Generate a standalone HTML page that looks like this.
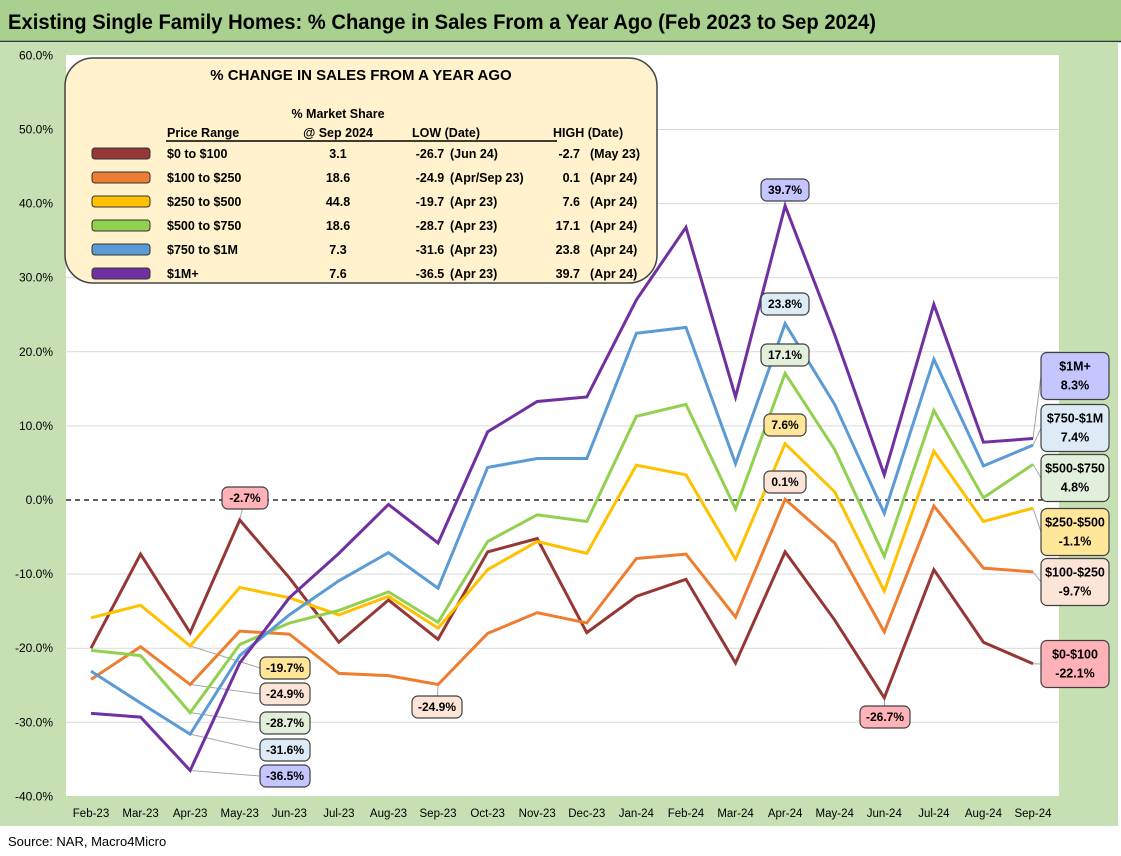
<!DOCTYPE html>
<html><head><meta charset="utf-8"><style>
html,body{margin:0;padding:0;background:#fff}
svg{display:block;font-family:"Liberation Sans",sans-serif}
</style></head><body>
<svg id="c" width="1121" height="856" xmlns="http://www.w3.org/2000/svg">
<rect x="0" y="0" width="1121" height="41" fill="#A9D08E"/>
<line x1="0" y1="41.5" x2="1121" y2="41.5" stroke="#333" stroke-width="1.5"/>
<text x="8" y="29" font-size="21" font-weight="bold" fill="#000" textLength="868" lengthAdjust="spacingAndGlyphs">Existing Single Family Homes: % Change in Sales From a Year Ago (Feb 2023 to Sep 2024)</text>
<rect x="0" y="42" width="1118" height="784" fill="#C6E0B4"/>
<rect x="66" y="55" width="993" height="741" fill="#fff"/>
<text x="8" y="846" font-size="13" fill="#000">Source: NAR, Macro4Micro</text>
<g id="grid"></g><g id="leaders"></g><g id="lines"></g><g id="labels"></g>
<g>
<rect x="65" y="58" width="592" height="225" rx="28" fill="#FFF2CC" stroke="#444" stroke-width="1.5"/>
<text x="361" y="80" font-size="15" font-weight="bold" text-anchor="middle">% CHANGE IN SALES FROM A YEAR AGO</text>
<g font-size="12.5" font-weight="bold" fill="#000">
<text x="338" y="118" text-anchor="middle">% Market Share</text>
<text x="167" y="137">Price Range</text>
<text x="338" y="137" text-anchor="middle">@ Sep 2024</text>
<text x="412" y="137">LOW  (Date)</text>
<text x="553" y="137">HIGH  (Date)</text>
<line x1="166" y1="141" x2="557" y2="141" stroke="#000" stroke-width="1.5"/>
</g>
<g id="legrows" font-size="12.5" font-weight="bold"></g>
</g>
</svg>
<script>
const months=["Feb-23","Mar-23","Apr-23","May-23","Jun-23","Jul-23","Aug-23","Sep-23","Oct-23","Nov-23","Dec-23","Jan-24","Feb-24","Mar-24","Apr-24","May-24","Jun-24","Jul-24","Aug-24","Sep-24"];
const yTicks=[60,50,40,30,20,10,0,-10,-20,-30,-40];
const s0=[-20,-7.3,-17.9,-2.7,-10.5,-19.2,-13.5,-18.8,-7,-5.2,-17.9,-13,-10.7,-22,-7,-16.2,-26.7,-9.4,-19.2,-22.1];
const s1=[-24.2,-19.8,-24.9,-17.7,-18.1,-23.4,-23.7,-24.9,-18,-15.2,-16.6,-7.9,-7.3,-15.8,0.1,-5.8,-17.8,-0.8,-9.2,-9.7];
const s2=[-15.9,-14.2,-19.7,-11.8,-13.2,-15.5,-13,-17.3,-9.4,-5.6,-7.2,4.7,3.4,-8,7.6,1.1,-12.3,6.6,-2.9,-1.1];
const s3=[-20.3,-21,-28.7,-19.5,-16.6,-14.9,-12.4,-16.5,-5.6,-2,-2.9,11.3,12.9,-1.2,17.1,6.8,-7.6,12.1,0.3,4.8];
const s4=[-23.1,-27.4,-31.6,-21,-15.5,-10.9,-7.1,-11.9,4.4,5.6,5.6,22.5,23.3,4.9,23.8,12.9,-1.8,19,4.6,7.4];
const s5=[-28.8,-29.3,-36.5,-22,-13.2,-7.2,-0.6,-5.8,9.2,13.3,13.9,27,36.8,13.9,39.7,22.3,3.4,26.4,7.8,8.3];
const seriesNames=["$0 to $100","$100 to $250","$250 to $500","$500 to $750","$750 to $1M","$1M+"];
const shortNames=["$0-$100","$100-$250","$250-$500","$500-$750","$750-$1M","$1M+"];
const share=["3.1","18.6","44.8","18.6","7.3","7.6"];
const lows=["-26.7","-24.9","-19.7","-28.7","-31.6","-36.5"];
const lowDates=["(Jun 24)","(Apr/Sep 23)","(Apr 23)","(Apr 23)","(Apr 23)","(Apr 23)"];
const highs=["-2.7","0.1","7.6","17.1","23.8","39.7"];
const highDates=["(May 23)","(Apr 24)","(Apr 24)","(Apr 24)","(Apr 24)","(Apr 24)"];
const colors=["#953735","#ED7D31","#FFC000","#92D050","#5B9BD5","#7030A0"];
const fills=["#FFB3B8","#FCE4D6","#FFE699","#E2EFDA","#DDEBF7","#C5C5FF"];
const series=[s0,s1,s2,s3,s4,s5];
const NS="http://www.w3.org/2000/svg";
const X=i=>91+i*49.58;
const Y=v=>500-v*7.41;
function mk(t,a,p,txt){const e=document.createElementNS(NS,t);for(const k in a)e.setAttribute(k,a[k]);if(txt!==undefined)e.textContent=txt;p.appendChild(e);return e;}
const grid=document.getElementById('grid');
yTicks.forEach(v=>{
  if(v!==0&&v>-40&&v<60){const l=mk('line',{x1:66,x2:1059,y1:Y(v),y2:Y(v),stroke:'#D9D9D9','stroke-width':1},grid);}
  const t=mk('text',{x:53,y:Y(v)+4,'font-size':12,'text-anchor':'end',fill:'#000'},grid,v.toFixed(1)+'%');
  
});
const z=mk('line',{x1:66,x2:1059,y1:Y(0),y2:Y(0),stroke:'#000','stroke-width':1.2,'stroke-dasharray':'5,4'},grid);

months.forEach((m,i)=>{const t=mk('text',{x:X(i),y:817,'font-size':11.5,'text-anchor':'middle',fill:'#000'},grid,m);
});
const lg=document.getElementById('lines');
series.forEach((s,k)=>{const p=mk('polyline',{points:s.map((v,i)=>X(i)+','+Y(v)).join(' '),fill:'none',stroke:colors[k],'stroke-width':3,'stroke-linejoin':'miter'},lg);
});
const lab=document.getElementById('labels'),lead=document.getElementById('leaders');
function box(cx,cy,w,h,k,lines,fs,idx){
  const r=mk('rect',{x:cx-w/2,y:cy-h/2,width:w,height:h,rx:6,fill:fills[k],stroke:'#404040','stroke-width':1.2},lab);
  
  lines.forEach((t,j)=>{const e=mk('text',{x:cx,y:cy+4+(j-(lines.length-1)/2)*19,'font-size':fs,'font-weight':'bold','text-anchor':'middle'},lab,t);
  });
  if(idx!==undefined){const l=mk('polyline',{points:X(idx[0])+','+Y(series[k][idx[0]])+' '+idx[1]+','+idx[2],fill:'none',stroke:'#A6A6A6','stroke-width':1},lead);
  }
}
box(245,498,46,22,0,[s0[3].toFixed(1)+'%'],12,[3,245,498]);
box(785,190,48,22,5,[s5[14].toFixed(1)+'%'],12,[14,785,190]);
box(785,304,48,22,4,[s4[14].toFixed(1)+'%'],12);
box(785,355,48,22,3,[s3[14].toFixed(1)+'%'],12);
box(785,425,42,22,2,[s2[14].toFixed(1)+'%'],12);
box(785,482,42,22,1,[s1[14].toFixed(1)+'%'],12);
box(285,668,50,22,2,[s2[2].toFixed(1)+'%'],12,[2,260,668]);
box(285,694,50,22,1,[s1[2].toFixed(1)+'%'],12,[2,260,694]);
box(285,723,50,22,3,[s3[2].toFixed(1)+'%'],12,[2,260,723]);
box(285,750,50,22,4,[s4[2].toFixed(1)+'%'],12,[2,260,750]);
box(285,776,50,22,5,[s5[2].toFixed(1)+'%'],12,[2,260,776]);
box(437,707,50,22,1,[s1[7].toFixed(1)+'%'],12,[7,437,707]);
box(885,717,50,22,0,[s0[16].toFixed(1)+'%'],12,[16,885,717]);
const rc=[664,582,532,478,428,376];
[0,1,2,3,4,5].forEach(k=>box(1075,rc[k],68,47,k,[shortNames[k],series[k][19].toFixed(1)+'%'],12.5,[19,1041,rc[k]]));
const lr=document.getElementById('legrows');
const ry=[158,182,206,230,254,278];
seriesNames.forEach((n,k)=>{
  const y=ry[k];
  const sw=mk('rect',{x:92,y:y-10,width:58,height:11,rx:3,fill:colors[k],stroke:'#333','stroke-width':1},lr);
  
  [[167,n,'start'],[338,share[k],'middle'],[430,lows[k],'middle'],[450,lowDates[k],'start'],[580,highs[k],'end'],[590,highDates[k],'start']].forEach(c=>{
    const t=mk('text',{x:c[0],y:y,'text-anchor':c[2]},lr,c[1]);
    });
});
</script>
</body></html>
